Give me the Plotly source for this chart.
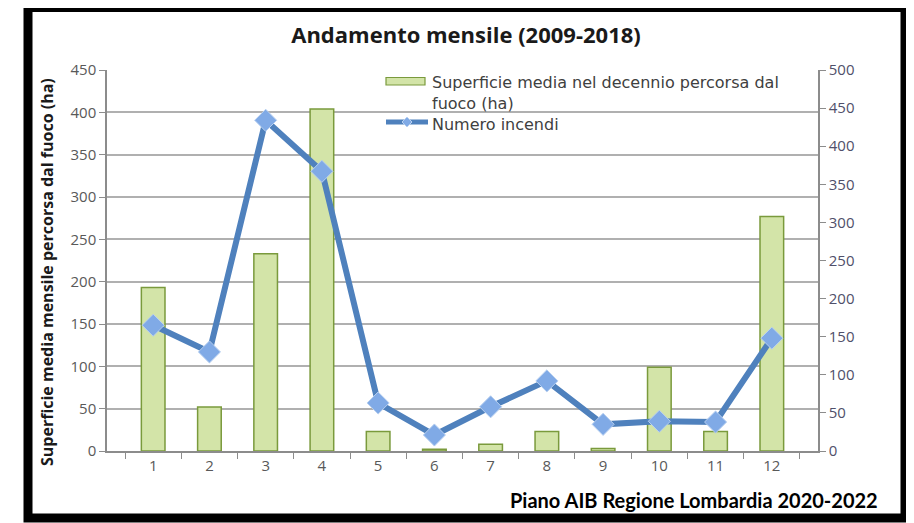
import plotly.graph_objects as go

months = ["1", "2", "3", "4", "5", "6", "7", "8", "9", "10", "11", "12"]
superficie = [193, 52, 233, 404, 23, 2, 8, 23, 3, 99, 23, 277]
incendi = [165, 130, 434, 367, 63, 21, 58, 92, 35, 39, 38, 148]
left_ticks = [0, 50, 100, 150, 200, 250, 300, 350, 400, 450]
right_ticks = [0, 50, 100, 150, 200, 250, 300, 350, 400, 450, 500]

BAR_FILL = "#d3e4a8"
BAR_LINE = "#7a9a3c"
LINE_COL = "#4f81bd"
MARK_COL = "#80aae6"

# page offset (body margin of the html page)
OFF = 8
W, H = 914, 523
# plot area in screenshot pixels
L, R, T, B = 107, 818, 70, 451
PW, PH = R - L, B - T


def px(x):
    return (x - L) / PW


def py(y):
    return (B - y) / PH


fig = go.Figure()
fig.add_trace(go.Bar(
    x=months, y=superficie,
    name="Superficie media nel decennio percorsa dal fuoco (ha)",
    marker=dict(color=BAR_FILL, line=dict(color=BAR_LINE, width=1.5)),
    width=0.42, yaxis="y",
))
fig.add_trace(go.Scatter(
    x=months, y=incendi, name="Numero incendi", yaxis="y2",
    mode="lines+markers",
    line=dict(color=LINE_COL, width=6),
    marker=dict(symbol="diamond", size=17, color=MARK_COL,
                line=dict(color="#b8d0f0", width=1)),
))

tickfont = dict(family="Open Sans", size=15, color="#595959")
fig.update_layout(
    width=W, height=H,
    margin=dict(l=L - OFF, r=W - (R - OFF), t=T - OFF, b=H - (B - OFF), autoexpand=False),
    paper_bgcolor="white", plot_bgcolor="white",
    showlegend=False,
    title=dict(text="<b>Andamento mensile (2009-2018)</b>", x=(466 - OFF) / W,
               y=1 - (35 - OFF) / H, xanchor="center", yanchor="middle",
               font=dict(family="Open Sans", size=22, color="#1a1a1a")),
    xaxis=dict(type="category", tickson="boundaries", ticks="outside", ticklen=6,
               tickcolor="#8c8c8c", showline=True, linecolor="#8c8c8c", linewidth=1.5,
               showgrid=False, tickfont=tickfont, automargin=False),
    yaxis=dict(range=[0, 450], tickvals=left_ticks, ticks="outside", ticklen=6,
               tickcolor="#8c8c8c", showline=True, linecolor="#8c8c8c", linewidth=1.5,
               showgrid=True, gridcolor="#b0b0b0", gridwidth=1.5, zeroline=False,
               tickfont=tickfont, automargin=False),
    yaxis2=dict(range=[0, 500], tickvals=right_ticks, overlaying="y", side="right",
                ticks="outside", ticklen=6, tickcolor="#8c8c8c", showline=True,
                linecolor="#8c8c8c", linewidth=1.5, showgrid=False, zeroline=False,
                tickfont=dict(family="Open Sans", size=15, color="#50506a"),
                automargin=False),
)

# custom legend (symbols + labels)
fig.add_shape(type="rect", xref="paper", yref="paper",
              x0=px(386), x1=px(425), y0=py(85), y1=py(77.5),
              fillcolor=BAR_FILL, line=dict(color=BAR_LINE, width=1.2))
fig.add_shape(type="line", xref="paper", yref="paper",
              x0=px(386), x1=px(428), y0=py(122), y1=py(122),
              line=dict(color=LINE_COL, width=5))
cx, cy, d = 407, 122, 5
fig.add_shape(type="path", xref="paper", yref="paper",
              path=f"M {px(cx - d)},{py(cy)} L {px(cx)},{py(cy - d)} L {px(cx + d)},{py(cy)} "
                   f"L {px(cx)},{py(cy + d)} Z",
              fillcolor=MARK_COL, line=dict(color="#b8d0f0", width=1))
fig.add_annotation(text="Superficie media nel decennio percorsa dal<br>fuoco (ha)<br>Numero incendi",
                   xref="paper", yref="paper", x=px(430), y=py(71),
                   xanchor="left", yanchor="top", align="left", showarrow=False,
                   font=dict(family="DejaVu Sans", size=16, color="#404040"))

fig.add_annotation(text="<b>Superficie media mensile percorsa dal fuoco (ha)</b>",
                   xref="paper", yref="paper", x=px(47), y=py(272), textangle=-90,
                   xanchor="center", yanchor="middle",
                   showarrow=False, font=dict(family="Open Sans", size=16, color="#1a1a1a"))
fig.add_annotation(text="<b>Piano AIB Regione Lombardia 2020-2022</b>",
                   xref="paper", yref="paper", x=px(880), y=py(500),
                   xanchor="right", yanchor="middle", showarrow=False,
                   font=dict(family="Lato", size=20, color="#000000"))
fig.add_shape(type="rect", xref="paper", yref="paper",
              x0=px(28), x1=px(905), y0=py(518), y1=py(7.5),
              line=dict(color="black", width=9), fillcolor="rgba(0,0,0,0)", layer="above")

fig.write_html("out.html")
